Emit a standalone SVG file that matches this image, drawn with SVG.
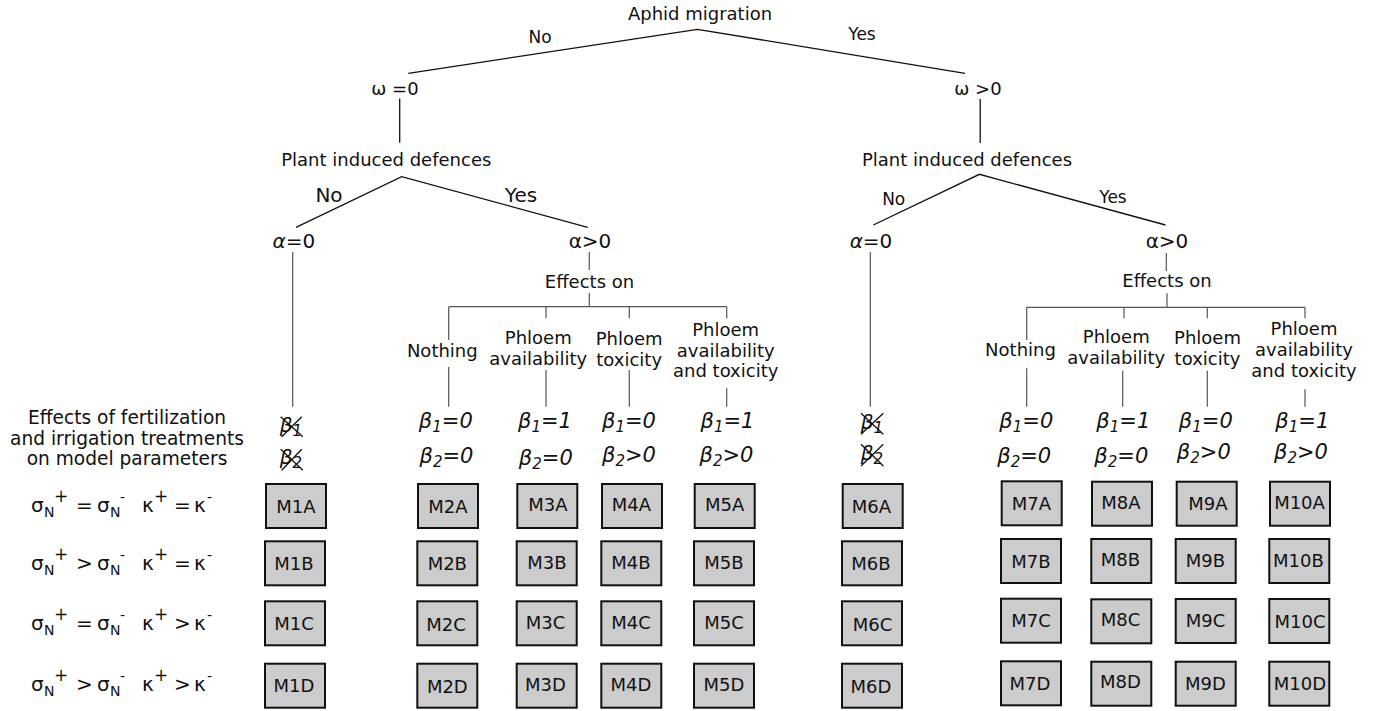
<svg xmlns="http://www.w3.org/2000/svg" width="1390" height="711" viewBox="0 0 1390 711">
<style>
text{font-family:"DejaVu Sans","Liberation Sans",sans-serif;fill:#111;}
.t18{font-size:18px;text-anchor:middle;}
.t17{font-size:17px;text-anchor:middle;}
.t20{font-size:20px;text-anchor:middle;}
.t19{font-size:18.6px;text-anchor:middle;}
.it{font-style:italic;}
.beta{font-size:21px;font-style:italic;text-anchor:middle;}
.sub{font-size:15px;}
.row{font-size:20px;}
.rs{font-size:14px;}
.box rect{fill:#cccccc;stroke:#111;stroke-width:2;}
.box text{font-size:18px;text-anchor:middle;}
.main{stroke:#111;stroke-width:1.3;fill:none;}
.sec{stroke:#555;stroke-width:1.2;fill:none;}
.x{stroke:#111;stroke-width:1.3;}
</style>
<rect width="1390" height="711" fill="#fff"/>

<g id="connectors">
<polyline class="main" points="408.3,73.3 697.5,29.3 965,73.3"/>
<line class="main" x1="399.7" y1="98.5" x2="399.7" y2="142.7"/>
<line class="main" x1="980.2" y1="99" x2="980.2" y2="143"/>
<polyline class="main" points="296,227.3 401.7,176.7 587.7,227.3"/>
<polyline class="main" points="873.3,225 979.4,174.3 1165.5,225"/>
<line class="sec" x1="292.7" y1="252" x2="292.7" y2="406.7"/>
<line class="sec" x1="870.3" y1="252" x2="870.3" y2="406.7"/>
<line class="sec" x1="589.3" y1="252" x2="589.3" y2="270"/>
<line class="sec" x1="1166.3" y1="253" x2="1166.3" y2="271"/>
<line class="sec" x1="589.3" y1="293" x2="589.3" y2="306.7"/>
<line class="sec" x1="1167" y1="293.3" x2="1167" y2="307.3"/>
<line class="sec" x1="448.7" y1="306.7" x2="726.7" y2="306.7"/>
<line class="sec" x1="448.7" y1="306.7" x2="448.7" y2="340"/>
<line class="sec" x1="546" y1="306.7" x2="546" y2="318.3"/>
<line class="sec" x1="629.3" y1="306.7" x2="629.3" y2="318.3"/>
<line class="sec" x1="726.7" y1="306.7" x2="726.7" y2="318.3"/>
<line class="sec" x1="448.7" y1="367" x2="448.7" y2="406.7"/>
<line class="sec" x1="546" y1="370" x2="546" y2="406.7"/>
<line class="sec" x1="629.3" y1="370" x2="629.3" y2="406.7"/>
<line class="sec" x1="726.7" y1="388.3" x2="726.7" y2="406.7"/>
<line class="sec" x1="1026.7" y1="307.3" x2="1305" y2="307.3"/>
<line class="sec" x1="1026.7" y1="307.3" x2="1026.7" y2="340"/>
<line class="sec" x1="1124" y1="307.3" x2="1124" y2="318.3"/>
<line class="sec" x1="1207.3" y1="307.3" x2="1207.3" y2="318.3"/>
<line class="sec" x1="1305" y1="307.3" x2="1305" y2="318.3"/>
<line class="sec" x1="1026.7" y1="368.3" x2="1026.7" y2="406.7"/>
<line class="sec" x1="1122.7" y1="370.7" x2="1122.7" y2="406.7"/>
<line class="sec" x1="1207.3" y1="370.7" x2="1207.3" y2="406.7"/>
<line class="sec" x1="1305" y1="389.3" x2="1305" y2="406.7"/>
</g>

<g id="tree-labels">
<text class="t18" x="700" y="20">Aphid migration</text>
<text class="t17" x="540" y="43">No</text>
<text class="t17" x="862" y="40">Yes</text>
<text class="t18" x="395" y="95">ω =0</text>
<text class="t18" x="978" y="95">ω &gt;0</text>
<text class="t18" x="386.3" y="165.7">Plant induced defences</text>
<text class="t18" x="967" y="165.7">Plant induced defences</text>
<text class="t20" x="329" y="202">No</text>
<text class="t20" x="521" y="202">Yes</text>
<text class="t17" x="893.7" y="205">No</text>
<text class="t17" x="1113" y="203.3">Yes</text>
<text class="t20" x="293.8" y="248.3"><tspan class="it">α</tspan>=0</text>
<text class="t20" x="590" y="248.3">α&gt;0</text>
<text class="t20" x="871" y="248.3"><tspan class="it">α</tspan>=0</text>
<text class="t20" x="1167" y="248.3">α&gt;0</text>
<text class="t18" x="589.5" y="288">Effects on</text>
<text class="t18" x="1167" y="286.7">Effects on</text>

<text class="t18" x="442.3" y="356.7">Nothing</text>
<text class="t18" x="538.3" y="344">Phloem</text>
<text class="t18" x="538.3" y="364.5">availability</text>
<text class="t18" x="629.2" y="345">Phloem</text>
<text class="t18" x="629.2" y="365.5">toxicity</text>
<text class="t18" x="725.7" y="336">Phloem</text>
<text class="t18" x="725.7" y="356.5">availability</text>
<text class="t18" x="725.7" y="377">and toxicity</text>

<text class="t18" x="1020.5" y="356">Nothing</text>
<text class="t18" x="1116.3" y="343.3">Phloem</text>
<text class="t18" x="1116.3" y="364">availability</text>
<text class="t18" x="1207.5" y="344.3">Phloem</text>
<text class="t18" x="1207.5" y="365">toxicity</text>
<text class="t18" x="1304" y="335">Phloem</text>
<text class="t18" x="1304" y="356">availability</text>
<text class="t18" x="1304" y="377">and toxicity</text>
</g>

<g id="beta-labels">
<text class="beta" x="445.8" y="428">β<tspan class="sub" dy="4">1</tspan><tspan dy="-4">=0</tspan></text>
<text class="beta" x="446.5" y="462.7">β<tspan class="sub" dy="4">2</tspan><tspan dy="-4">=0</tspan></text>
<text class="beta" x="545" y="428">β<tspan class="sub" dy="4">1</tspan><tspan dy="-4">=1</tspan></text>
<text class="beta" x="545.8" y="465">β<tspan class="sub" dy="4">2</tspan><tspan dy="-4">=0</tspan></text>
<text class="beta" x="629" y="428">β<tspan class="sub" dy="4">1</tspan><tspan dy="-4">=0</tspan></text>
<text class="beta" x="629" y="461.7">β<tspan class="sub" dy="4">2</tspan><tspan dy="-4">&gt;0</tspan></text>
<text class="beta" x="727.5" y="428">β<tspan class="sub" dy="4">1</tspan><tspan dy="-4">=1</tspan></text>
<text class="beta" x="726.5" y="461.7">β<tspan class="sub" dy="4">2</tspan><tspan dy="-4">&gt;0</tspan></text>

<text class="beta" x="1026.3" y="428.3">β<tspan class="sub" dy="4">1</tspan><tspan dy="-4">=0</tspan></text>
<text class="beta" x="1024.2" y="462.7">β<tspan class="sub" dy="4">2</tspan><tspan dy="-4">=0</tspan></text>
<text class="beta" x="1123.3" y="428">β<tspan class="sub" dy="4">1</tspan><tspan dy="-4">=1</tspan></text>
<text class="beta" x="1121.3" y="462.7">β<tspan class="sub" dy="4">2</tspan><tspan dy="-4">=0</tspan></text>
<text class="beta" x="1205.8" y="428">β<tspan class="sub" dy="4">1</tspan><tspan dy="-4">=0</tspan></text>
<text class="beta" x="1203.8" y="459.3">β<tspan class="sub" dy="4">2</tspan><tspan dy="-4">&gt;0</tspan></text>
<text class="beta" x="1302.3" y="428">β<tspan class="sub" dy="4">1</tspan><tspan dy="-4">=1</tspan></text>
<text class="beta" x="1301" y="459.3">β<tspan class="sub" dy="4">2</tspan><tspan dy="-4">&gt;0</tspan></text>

<g id="crossed-left">
<text class="beta" x="291" y="432" style="font-size:20px">β<tspan class="sub" dy="4">1</tspan></text>
<line class="x" x1="280.7" y1="416.7" x2="302.7" y2="436.7"/>
<line class="x" x1="281.7" y1="436.7" x2="301.7" y2="416.7"/>
<text class="beta" x="291" y="464" style="font-size:20px">β<tspan class="sub" dy="4">2</tspan></text>
<line class="x" x1="280.7" y1="449.3" x2="302.7" y2="470.3"/>
<line class="x" x1="281.7" y1="470.3" x2="301.7" y2="449.3"/>
</g>
<g id="crossed-right">
<text class="beta" x="872" y="429" style="font-size:20px">β<tspan class="sub" dy="4">1</tspan></text>
<line class="x" x1="861" y1="413.3" x2="883.3" y2="434.3"/>
<line class="x" x1="861" y1="434.3" x2="883.3" y2="413.3"/>
<text class="beta" x="872" y="460" style="font-size:20px">β<tspan class="sub" dy="4">2</tspan></text>
<line class="x" x1="861" y1="444.3" x2="883.3" y2="466"/>
<line class="x" x1="861" y1="466" x2="883.3" y2="444.3"/>
</g>
</g>

<g id="row-labels">
<text class="t19" x="127" y="424">Effects of fertilization</text>
<text class="t19" x="127" y="444.5">and irrigation treatments</text>
<text class="t19" x="127" y="465">on model parameters</text>
<text class="row"><tspan x="31" y="512">σ</tspan><tspan class="rs" x="44" y="517">N</tspan><tspan class="rs" x="54" y="502" style="font-size:17px">+</tspan><tspan x="76" y="512">=</tspan><tspan x="97" y="512">σ</tspan><tspan class="rs" x="110" y="517">N</tspan><tspan class="rs" x="120" y="502">-</tspan><tspan x="142" y="512">κ</tspan><tspan class="rs" x="154" y="502" style="font-size:17px">+</tspan><tspan x="174" y="512">=</tspan><tspan x="194" y="512">κ</tspan><tspan class="rs" x="207" y="502">-</tspan></text>
<text class="row"><tspan x="31" y="569.5">σ</tspan><tspan class="rs" x="44" y="574.5">N</tspan><tspan class="rs" x="54" y="559.5" style="font-size:17px">+</tspan><tspan x="76" y="569.5">&gt;</tspan><tspan x="97" y="569.5">σ</tspan><tspan class="rs" x="110" y="574.5">N</tspan><tspan class="rs" x="120" y="559.5">-</tspan><tspan x="142" y="569.5">κ</tspan><tspan class="rs" x="154" y="559.5" style="font-size:17px">+</tspan><tspan x="174" y="569.5">=</tspan><tspan x="194" y="569.5">κ</tspan><tspan class="rs" x="207" y="559.5">-</tspan></text>
<text class="row"><tspan x="31" y="630">σ</tspan><tspan class="rs" x="44" y="635">N</tspan><tspan class="rs" x="54" y="620" style="font-size:17px">+</tspan><tspan x="76" y="630">=</tspan><tspan x="97" y="630">σ</tspan><tspan class="rs" x="110" y="635">N</tspan><tspan class="rs" x="120" y="620">-</tspan><tspan x="142" y="630">κ</tspan><tspan class="rs" x="154" y="620" style="font-size:17px">+</tspan><tspan x="174" y="630">&gt;</tspan><tspan x="194" y="630">κ</tspan><tspan class="rs" x="207" y="620">-</tspan></text>
<text class="row"><tspan x="31" y="691">σ</tspan><tspan class="rs" x="44" y="696">N</tspan><tspan class="rs" x="54" y="681" style="font-size:17px">+</tspan><tspan x="76" y="691">&gt;</tspan><tspan x="97" y="691">σ</tspan><tspan class="rs" x="110" y="696">N</tspan><tspan class="rs" x="120" y="681">-</tspan><tspan x="142" y="691">κ</tspan><tspan class="rs" x="154" y="681" style="font-size:17px">+</tspan><tspan x="174" y="691">&gt;</tspan><tspan x="194" y="691">κ</tspan><tspan class="rs" x="207" y="681">-</tspan></text>
</g>

<g id="M1A" class="box"><rect x="266" y="484" width="60" height="44"/><text x="296" y="512.5">M1A</text></g>
<g id="M1B" class="box"><rect x="265" y="541.3" width="60" height="44"/><text x="294" y="569.5">M1B</text></g>
<g id="M1C" class="box"><rect x="265" y="601.3" width="60" height="44"/><text x="294" y="630">M1C</text></g>
<g id="M1D" class="box"><rect x="265" y="663.7" width="60" height="44"/><text x="294" y="692">M1D</text></g>

<g id="M2A" class="box"><rect x="418" y="484" width="60" height="44"/><text x="448" y="512.5">M2A</text></g>
<g id="M2B" class="box"><rect x="417.3" y="541.3" width="60" height="44"/><text x="447.3" y="570">M2B</text></g>
<g id="M2C" class="box"><rect x="417.3" y="601.3" width="60" height="44"/><text x="446" y="630.5">M2C</text></g>
<g id="M2D" class="box"><rect x="417.3" y="663.7" width="60" height="44"/><text x="447.3" y="692.5">M2D</text></g>

<g id="M3A" class="box"><rect x="517.3" y="484" width="60" height="44"/><text x="548" y="510.5">M3A</text></g>
<g id="M3B" class="box"><rect x="516.7" y="541.3" width="60" height="44"/><text x="547" y="569">M3B</text></g>
<g id="M3C" class="box"><rect x="516.7" y="601.3" width="60" height="44"/><text x="545.5" y="628.5">M3C</text></g>
<g id="M3D" class="box"><rect x="516.7" y="663.7" width="60" height="44"/><text x="545.5" y="690.5">M3D</text></g>

<g id="M4A" class="box"><rect x="602" y="484" width="60" height="44"/><text x="631.5" y="510.5">M4A</text></g>
<g id="M4B" class="box"><rect x="601.3" y="541.3" width="60" height="44"/><text x="631" y="569">M4B</text></g>
<g id="M4C" class="box"><rect x="601.3" y="601.3" width="60" height="44"/><text x="631" y="629">M4C</text></g>
<g id="M4D" class="box"><rect x="601.3" y="663.7" width="60" height="44"/><text x="631" y="691">M4D</text></g>

<g id="M5A" class="box"><rect x="694.7" y="484" width="60" height="44"/><text x="724.7" y="510.5">M5A</text></g>
<g id="M5B" class="box"><rect x="694" y="541.3" width="60" height="44"/><text x="724" y="569">M5B</text></g>
<g id="M5C" class="box"><rect x="694" y="601.3" width="60" height="44"/><text x="724" y="629">M5C</text></g>
<g id="M5D" class="box"><rect x="694" y="663.7" width="60" height="44"/><text x="724" y="691">M5D</text></g>

<g id="M6A" class="box"><rect x="842.7" y="484" width="60" height="44"/><text x="871.5" y="512.5">M6A</text></g>
<g id="M6B" class="box"><rect x="842" y="541.3" width="60" height="44"/><text x="871" y="570">M6B</text></g>
<g id="M6C" class="box"><rect x="842" y="601.3" width="60" height="44"/><text x="872.5" y="630.5">M6C</text></g>
<g id="M6D" class="box"><rect x="842" y="663.7" width="60" height="44"/><text x="871" y="692.5">M6D</text></g>

<g id="M7A" class="box"><rect x="1001.7" y="481.3" width="60" height="44"/><text x="1031.5" y="510">M7A</text></g>
<g id="M7B" class="box"><rect x="1001" y="539" width="60" height="44"/><text x="1031" y="567.5">M7B</text></g>
<g id="M7C" class="box"><rect x="1001" y="598.7" width="60" height="44"/><text x="1031" y="627">M7C</text></g>
<g id="M7D" class="box"><rect x="1001" y="661.3" width="60" height="44"/><text x="1030" y="689.5">M7D</text></g>

<g id="M8A" class="box"><rect x="1092" y="481.7" width="60" height="44"/><text x="1121" y="508.5">M8A</text></g>
<g id="M8B" class="box"><rect x="1091.3" y="539" width="60" height="44"/><text x="1120.5" y="565.5">M8B</text></g>
<g id="M8C" class="box"><rect x="1091.3" y="599.3" width="60" height="44"/><text x="1120.5" y="626">M8C</text></g>
<g id="M8D" class="box"><rect x="1091.3" y="661.7" width="60" height="44"/><text x="1120.5" y="688">M8D</text></g>

<g id="M9A" class="box"><rect x="1176.7" y="481.7" width="60" height="44"/><text x="1208" y="510">M9A</text></g>
<g id="M9B" class="box"><rect x="1175.7" y="539" width="60" height="44"/><text x="1205.5" y="567">M9B</text></g>
<g id="M9C" class="box"><rect x="1175.7" y="599" width="60" height="44"/><text x="1205.5" y="627">M9C</text></g>
<g id="M9D" class="box"><rect x="1175.7" y="661.7" width="60" height="44"/><text x="1205.5" y="689.5">M9D</text></g>

<g id="M10A" class="box"><rect x="1270" y="481.7" width="60" height="44"/><text x="1299.5" y="509">M10A</text></g>
<g id="M10B" class="box"><rect x="1269.3" y="539" width="60" height="44"/><text x="1298.5" y="567">M10B</text></g>
<g id="M10C" class="box"><rect x="1269.3" y="599" width="60" height="44"/><text x="1300" y="627.5">M10C</text></g>
<g id="M10D" class="box"><rect x="1269.3" y="661.7" width="60" height="44"/><text x="1300" y="690">M10D</text></g>
</svg>
